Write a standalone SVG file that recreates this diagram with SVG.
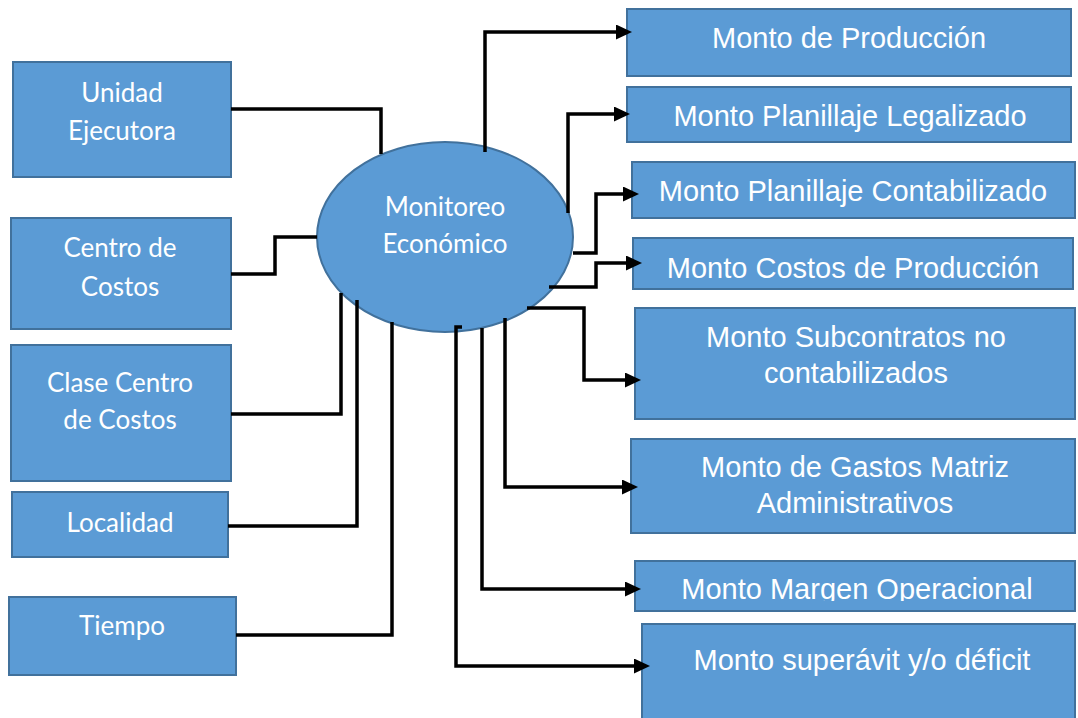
<svg xmlns="http://www.w3.org/2000/svg" width="1078" height="718" viewBox="0 0 1078 718">
  <style>
    .box { fill: #5B9BD5; stroke: #41719C; stroke-width: 2; }
    .lt { font-family: Lato, "Open Sans", "Liberation Sans", sans-serif; font-size: 26px; fill: #ffffff; text-anchor: middle; }
    .rt { font-family: "Liberation Sans", Arial, sans-serif; font-size: 29px; fill: #ffffff; text-anchor: middle; }
    .wire { fill: none; stroke: #000000; stroke-width: 3.5; stroke-linejoin: miter; }
    .arrow { marker-end: url(#head); }
  </style>
  <defs>
    <marker id="head" markerUnits="userSpaceOnUse" markerWidth="16" markerHeight="15" refX="8" refY="7.5" orient="auto">
      <path d="M0,0 L16,7.5 L0,15 Z" fill="#000000"/>
    </marker>
    <clipPath id="clipMargen">
      <rect x="636" y="562" width="438" height="39"/>
    </clipPath>
  </defs>

  <rect width="1078" height="718" fill="#ffffff"/>

  <!-- Input dimensions (left) -->
  <g id="unidad-ejecutora">
    <rect class="box" x="13" y="62" width="218" height="115"/>
    <text class="lt" x="122" y="102">Unidad</text>
    <text class="lt" x="122" y="140">Ejecutora</text>
  </g>
  <g id="centro-costos">
    <rect class="box" x="11" y="218" width="220" height="111"/>
    <text class="lt" x="120" y="257">Centro de</text>
    <text class="lt" x="120" y="296">Costos</text>
  </g>
  <g id="clase-centro-costos">
    <rect class="box" x="11" y="345" width="220" height="136"/>
    <text class="lt" x="120" y="392">Clase Centro</text>
    <text class="lt" x="120" y="429">de Costos</text>
  </g>
  <g id="localidad">
    <rect class="box" x="12" y="492" width="216" height="65"/>
    <text class="lt" x="120" y="532">Localidad</text>
  </g>
  <g id="tiempo">
    <rect class="box" x="9" y="597" width="227" height="78"/>
    <text class="lt" x="122" y="635">Tiempo</text>
  </g>

  <!-- Central process -->
  <g id="monitoreo-economico">
    <ellipse class="box" cx="445" cy="237" rx="128" ry="95"/>
    <text class="lt" x="445" y="216">Monitoreo</text>
    <text class="lt" x="445" y="253">Económico</text>
  </g>

  <!-- Output amounts (right) -->
  <g id="monto-produccion">
    <rect class="box" x="627" y="9" width="444" height="67"/>
    <text class="rt" x="849" y="48">Monto de Producción</text>
  </g>
  <g id="monto-planillaje-legalizado">
    <rect class="box" x="627" y="87" width="444" height="55"/>
    <text class="rt" x="850" y="126">Monto Planillaje Legalizado</text>
  </g>
  <g id="monto-planillaje-contabilizado">
    <rect class="box" x="632" y="162" width="443" height="56"/>
    <text class="rt" x="853" y="201">Monto Planillaje Contabilizado</text>
  </g>
  <g id="monto-costos-produccion">
    <rect class="box" x="633" y="238" width="440" height="51"/>
    <text class="rt" x="853" y="278">Monto Costos de Producción</text>
  </g>
  <g id="monto-subcontratos">
    <rect class="box" x="635" y="308" width="440" height="111"/>
    <text class="rt" x="856" y="347">Monto Subcontratos no</text>
    <text class="rt" x="856" y="383">contabilizados</text>
  </g>
  <g id="monto-gastos-matriz">
    <rect class="box" x="631" y="439" width="444" height="94"/>
    <text class="rt" x="855" y="477">Monto de Gastos Matriz</text>
    <text class="rt" x="855" y="513">Administrativos</text>
  </g>
  <g id="monto-margen-operacional">
    <rect class="box" x="635" y="561" width="440" height="50"/>
    <text class="rt" x="857" y="599" clip-path="url(#clipMargen)">Monto Margen Operacional</text>
  </g>
  <g id="monto-superavit-deficit">
    <rect class="box" x="642" y="624" width="433" height="100"/>
    <text class="rt" x="862" y="670">Monto superávit y/o déficit</text>
  </g>

  <!-- Connectors -->
  <g id="connectors">
    <path class="wire" d="M231,109 H381 V154"/>
    <path class="wire" d="M231,274 H275 V237 H317"/>
    <path class="wire" d="M231,414 H341 V293"/>
    <path class="wire" d="M228,526 H357 V300"/>
    <path class="wire" d="M236,635 H392 V322"/>

    <path class="wire arrow" d="M485,152 V32 H624"/>
    <path class="wire arrow" d="M568,213 V114 H622"/>
    <path class="wire arrow" d="M573,253 H596 V194 H631"/>
    <path class="wire arrow" d="M549,287 H596 V263 H634"/>
    <path class="wire arrow" d="M527,308 H584 V380 H633"/>
    <path class="wire arrow" d="M505,318 V487 H630"/>
    <path class="wire arrow" d="M482,328 V589 H633"/>
    <path class="wire arrow" d="M462,327 H456 V666 H642"/>
  </g>
</svg>
